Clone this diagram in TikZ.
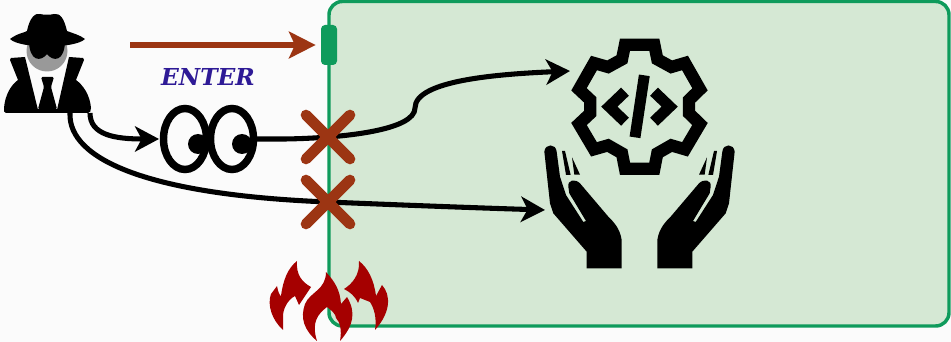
\documentclass[tikz,border=0pt]{standalone}
\usepackage{fontspec}
\setmainfont{DejaVu Serif}
\usetikzlibrary{arrows.meta}
\definecolor{paper}{HTML}{FBFBFB}
\definecolor{zonefill}{HTML}{D5E8D4}
\definecolor{zoneline}{HTML}{0F9B5C}
\definecolor{rust}{HTML}{9C3513}
\definecolor{flame}{HTML}{A50000}
\definecolor{entertext}{HTML}{2E1A96}
\tikzset{
  icon/.style={inner sep=0pt,outer sep=0pt},
  flow/.style={line width=3.8pt,-{Stealth[length=18pt,width=19pt,inset=5pt]}},
  entryflow/.style={rust,line width=5pt,-{Stealth[length=20pt,width=20pt,inset=4.5pt]}},
  cross/.style={rust,line width=8pt,line cap=round},
  flamepart/.style={fill=flame,draw=none},
  pics/handicon/.style={code={
    \fill (43,395) -- (60,550) -- (70,580) -- (170,695) -- (170,745) -- (275,745)
      -- (275,660) .. controls (270,625) and (250,605) .. (235,590) -- (150,490)
      .. controls (135,475) and (112,480) .. (115,500) -- (118,520) -- (168,603) -- (160,606)
      -- (108,525) -- (90,470) -- (80,395) .. controls (78,370) and (45,370) .. (43,395) -- cycle;
    \fill (96,393) -- (108,465) -- (122,465) -- (105,393) -- cycle;
    \fill (126,412) -- (133,464) -- (150,464) -- cycle;
  }},
}
\begin{document}
\begin{tikzpicture}[x=0.75pt,y=-0.75pt]
\useasboundingbox (0,0) rectangle (951,342);
\fill[paper] (0,0) rectangle (951,342);
\draw[zoneline,fill=zonefill,line width=2.6pt,rounded corners=10pt] (329,1.5) rectangle (949,326);
% places the connectors attach to
\node[icon,minimum width=66pt,minimum height=75pt] (spy) at (47,63) {};
\node[icon,minimum width=73.5pt,minimum height=51pt] (eyes) at (208,139) {};
\node[icon,minimum width=12pt,minimum height=30pt] (door) at (329,45) {};
\node[icon,minimum width=105pt,minimum height=103pt] (gear) at (640,106) {};
\node[icon,minimum width=142pt,minimum height=94pt] (hands) at (640,208) {};
\coordinate (redstart) at (130,45);
\coordinate (spyfoot) at (90,113);
\coordinate (spyleg) at (70,113);
\coordinate (gearin) at (570,71);
\coordinate (handsin) at (545,210);
% door and entry arrow
\fill[zoneline,rounded corners=3pt] (door.south west) rectangle (door.north east);
\draw[entryflow,shorten >=4pt] (redstart) -- (door.west);
\node[icon,entertext] (entertxt) at (208,77) {\fontsize{17.5}{18}\selectfont\bfseries\itshape ENTER};
% spy
\fill[black!40] (47,51) circle (20.5);
\fill (10,60) -- (11,58) -- (25,57) -- (38,110) -- (36,113) -- (6,113) .. controls (4,113) and (4,111) .. (4,108)
  .. controls (5,95) and (11,85) .. (18,80) -- cycle;
\fill (84,60) -- (83,58) -- (69,57) -- (57,110) -- (58,113) -- (88,113) .. controls (90,113) and (91,111) .. (91,108)
  .. controls (90,95) and (83,85) .. (76,80) -- cycle;
\fill (29,40) .. controls (29,62) and (41,62) .. (47,54) .. controls (53,62) and (65,62) .. (65,40) -- cycle;
\fill (10,39) .. controls (18,33) and (24,33) .. (27,31) .. controls (30,16) and (36,13) .. (40,14)
  .. controls (44,15) and (50,15) .. (54,14) .. controls (60,13) and (64,18) .. (67,31)
  .. controls (72,33) and (80,35) .. (85,39) .. controls (75,49) and (20,49) .. (10,39) -- cycle;
\fill[rounded corners=1pt] (41,77) -- (54,77) -- (51,87) -- (57,109) -- (47,113) -- (38,109) -- (44,87) -- cycle;
\fill (36,109) rectangle (59,113);
% eyes
\draw[line width=5.6pt] (185,139) ellipse (21.5 and 30.5);
\draw[line width=5.6pt] (232,139) ellipse (21.5 and 30.5);
\fill (198,144) circle (10);
\fill (242,144) circle (10);
% connectors
\draw[flow] (spyfoot) .. controls (90,135) and (115,139) .. (eyes.west);
\draw[flow] (eyes.east) -- (285,139) .. controls (345,138) and (415,130) .. (415,108)
  .. controls (415,80) and (500,74) .. (gearin);
\draw[flow] (spyleg) .. controls (68,160) and (150,195) .. (328,202) .. controls (400,205) and (480,208) .. (handsin);
% crosses on the border
\foreach \ypos in {137,202} {
  \draw[cross] (306,\ypos-22) -- (350,\ypos+22);
  \draw[cross] (306,\ypos+22) -- (350,\ypos-22);
}
% gear
\begin{scope}[shift={(530,20)},x=0.25pt,y=-0.25pt]
\draw[line width=9.2pt,miter limit=3] (285,74) -- (373,74) -- (382,118) -- (424,141) -- (465,129) -- (510,208) -- (477,240)
  -- (477,280) -- (510,312) -- (465,388) -- (424,376) -- (382,400) -- (373,446) -- (285,446) -- (276,400)
  -- (234,376) -- (192,388) -- (147,312) -- (181,280) -- (181,240) -- (147,208) -- (192,129) -- (234,141) -- (276,118) -- cycle;
\draw[line width=8.4pt] (285,215) -- (238,260) -- (285,305);
\draw[line width=8.4pt] (372,215) -- (419,260) -- (372,305);
\draw[line width=8.2pt] (343,166) -- (315,352);
\pic at (0,0) {handicon};
\pic[xscale=-1] at (657,0) {handicon};
\end{scope}
% fire
\fill[flamepart] (297,261) .. controls (296,275) and (302,282) .. (311,287) -- (299,305) -- (295,296)
  .. controls (287,300) and (283,310) .. (283,316) -- (283,330) .. controls (272,320) and (267,305) .. (271,294)
  -- (277,286) .. controls (278,292) and (280,296) .. (281,296) .. controls (283,280) and (288,268) .. (297,261) -- cycle;
\fill[flamepart] (326,272) .. controls (335,282) and (340,290) .. (341,304) -- (347,297)
  .. controls (356,312) and (354,325) .. (340,341) .. controls (342,330) and (340,322) .. (336,318)
  .. controls (336,314) and (331,310) .. (327,307) .. controls (318,314) and (311,322) .. (317,341)
  .. controls (304,330) and (300,318) .. (305,304) .. controls (310,292) and (326,290) .. (326,272) -- cycle;
\fill[flamepart] (359,261) .. controls (368,268) and (374,280) .. (376,296) -- (382,285)
  .. controls (391,295) and (391,312) .. (375,330) .. controls (377,318) and (374,308) .. (370,302)
  -- (360,298) -- (358,303) .. controls (355,296) and (350,292) .. (344,289) .. controls (352,284) and (360,275) .. (359,261) -- cycle;
\end{tikzpicture}
\end{document}
